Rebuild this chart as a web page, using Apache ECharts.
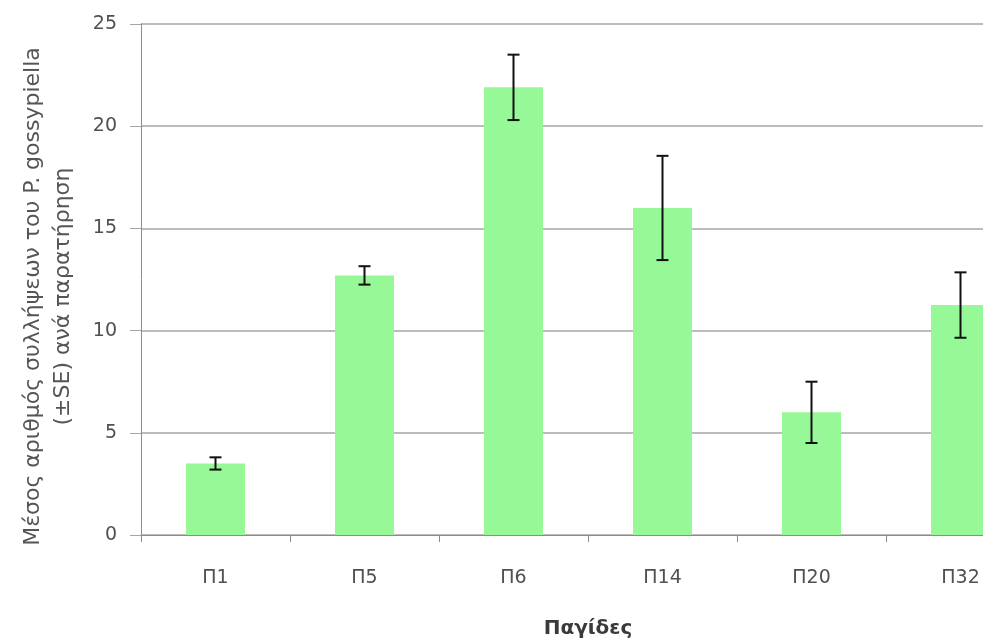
<!DOCTYPE html>
<html>
<head>
<meta charset="utf-8">
<script src="https://cdn.jsdelivr.net/npm/echarts@6/dist/echarts.min.js"></script>
<style>
html,body{margin:0;padding:0;background:#fff;overflow:hidden;width:983px;height:641px;}
#chart{width:1036px;height:641px;}
</style>
</head>
<body>
<div id="chart"></div>
<script>
var categories = ['Π1', 'Π5', 'Π6', 'Π14', 'Π20', 'Π32'];
var means = [3.5, 12.7, 21.9, 16.0, 6.0, 11.25];
var se = [0.3, 0.45, 1.6, 2.55, 1.5, 1.6];
var yTicks = [0, 5, 10, 15, 20, 25];

var errData = categories.map(function (c, i) {
  return [i, means[i] - se[i], means[i] + se[i]];
});

var chart = echarts.init(document.getElementById('chart'));
var FONT = '"DejaVu Sans", "Noto Sans", sans-serif';
chart.setOption({
  animation: false,
  backgroundColor: '#ffffff',
  grid: { left: 141, right: 1, top: 24, bottom: 106, containLabel: false, outerBoundsMode: 'none' },
  xAxis: {
    type: 'category',
    data: categories,
    name: 'Παγίδες',
    nameLocation: 'middle',
    nameGap: 84,
    nameTextStyle: { fontFamily: FONT, fontSize: 20, fontWeight: 'bold', color: '#3a3a3a', verticalAlign: 'top' },
    axisLine: { lineStyle: { color: '#8c8c8c', width: 1 } },
    axisTick: { show: true, length: 7, lineStyle: { color: '#8c8c8c' } },
    axisLabel: { fontFamily: FONT, fontSize: 19, color: '#505050', margin: 34 },
    splitLine: { show: false }
  },
  yAxis: {
    type: 'value',
    min: yTicks[0],
    max: yTicks[yTicks.length - 1],
    interval: 5,
    name: 'Μέσος αριθμός συλλήψεων του P. gossypiella\n(±SE) ανά παρατήρηση',
    nameLocation: 'middle',
    nameRotate: 90,
    nameGap: 63,
    nameTextStyle: { fontFamily: FONT, fontSize: 22, color: '#555555', lineHeight: 30, padding: [0, 34, 0, 0] },
    axisLine: { show: true, lineStyle: { color: '#8c8c8c', width: 1 } },
    axisTick: { show: true, length: 11, lineStyle: { color: '#a6a6a6' } },
    axisLabel: { fontFamily: FONT, fontSize: 19, color: '#505050', margin: 24 },
    splitLine: { show: true, lineStyle: { color: '#a6a6a6', width: 1.5 } }
  },
  series: [
    {
      type: 'bar',
      data: means,
      barWidth: 59,
      itemStyle: { color: '#97f897' },
      z: 2
    },
    {
      type: 'custom',
      data: errData,
      z: 5,
      renderItem: function (params, api) {
        var x = api.value(0);
        var lo = api.coord([x, api.value(1)]);
        var hi = api.coord([x, api.value(2)]);
        var half = 6;
        var st = { stroke: '#111111', lineWidth: 2 };
        return {
          type: 'group',
          children: [
            { type: 'line', shape: { x1: hi[0], y1: hi[1], x2: lo[0], y2: lo[1] }, style: st },
            { type: 'line', shape: { x1: hi[0] - half, y1: hi[1], x2: hi[0] + half, y2: hi[1] }, style: st },
            { type: 'line', shape: { x1: lo[0] - half, y1: lo[1], x2: lo[0] + half, y2: lo[1] }, style: st }
          ]
        };
      }
    }
  ]
});
</script>
</body>
</html>
